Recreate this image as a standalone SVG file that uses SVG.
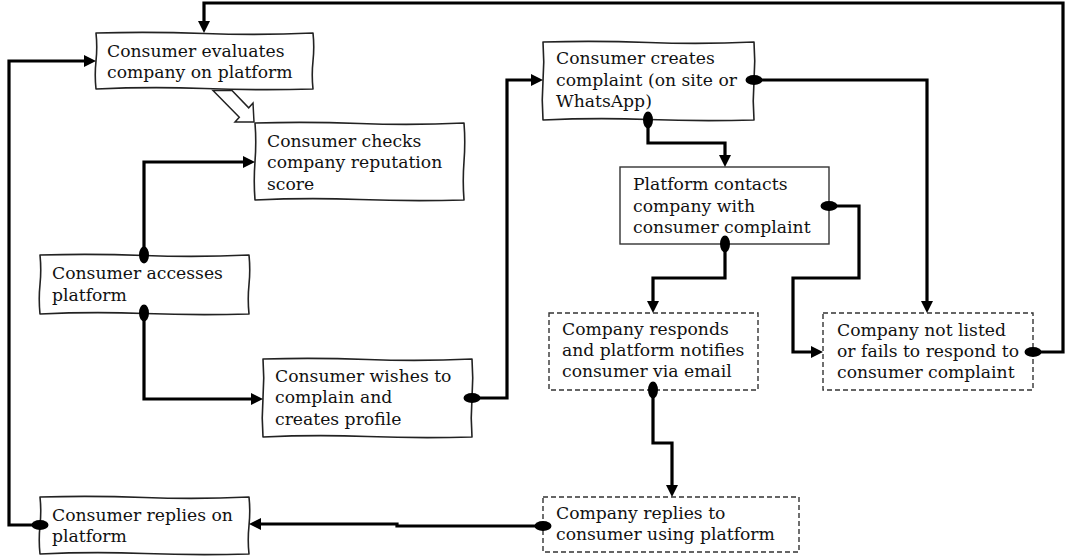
<svg xmlns="http://www.w3.org/2000/svg" width="1065" height="559" viewBox="0 0 1065 559">
<style>
.sk{fill:#fff;stroke:#222;stroke-width:1.6;stroke-linejoin:round}
.pl{fill:#fff;stroke:#333;stroke-width:1.4}
.ds{fill:#fff;stroke:#333;stroke-width:1.4;stroke-dasharray:5 3}
.t{font-family:"DejaVu Serif","Liberation Serif",serif;font-size:17.2px;fill:#111}
.c{fill:none;stroke:#000;stroke-width:3.2;stroke-linejoin:miter;marker-start:url(#dot);marker-end:url(#arr)}
</style>
<defs>
<marker id="arr" viewBox="0 0 12 12" refX="6" refY="6" markerWidth="12" markerHeight="12" markerUnits="userSpaceOnUse" orient="auto">
<path d="M0,0 L12,6 L0,12 Z" fill="#000"/>
</marker>
<marker id="dot" viewBox="0 0 18 12" refX="9" refY="6" markerWidth="18" markerHeight="12" markerUnits="userSpaceOnUse" orient="auto">
<ellipse cx="9" cy="6" rx="8.5" ry="5" fill="#000"/>
</marker>
</defs>
<g id="n1">
<path class="sk" d="M96,33 Q150,31.5 204.5,33.5 T313,33 Q314.5,47 313,61 T313,89 Q259,90.5 204.5,88.5 T96,89 Q94.5,75 96,61 T96,33 Z"/>
<text class="t" x="107" y="57">Consumer evaluates</text>
<text class="t" x="107" y="78">company on platform</text>
</g>
<g id="n2">
<path class="sk" d="M255,123 Q307,121.5 359.5,123.5 T464,123 Q465.5,142 464,161.5 T464,200 Q412,201.5 359.5,199.5 T255,200 Q253.5,181 255,161.5 T255,123 Z"/>
<text class="t" x="267" y="147">Consumer checks</text>
<text class="t" x="267" y="168">company reputation</text>
<text class="t" x="267" y="190">score</text>
</g>
<g id="n3">
<path class="sk" d="M40,255 Q92,253.5 144.5,255.5 T249,255 Q250.5,270 249,284.5 T249,314 Q197,315.5 144.5,313.5 T40,314 Q38.5,299 40,284.5 T40,255 Z"/>
<text class="t" x="52" y="279">Consumer accesses</text>
<text class="t" x="52" y="301">platform</text>
</g>
<g id="n4">
<path class="sk" d="M263,359 Q315,357.5 367.5,359.5 T472,359 Q473.5,378 472,398 T472,437 Q420,438.5 367.5,436.5 T263,437 Q261.5,418 263,398 T263,359 Z"/>
<text class="t" x="275" y="382">Consumer wishes to</text>
<text class="t" x="275" y="403">complain and</text>
<text class="t" x="275" y="425">creates profile</text>
</g>
<g id="n5">
<path class="sk" d="M40,497 Q92,495.5 144.5,497.5 T249,497 Q250.5,511 249,525.5 T249,554 Q197,555.5 144.5,553.5 T40,554 Q38.5,540 40,525.5 T40,497 Z"/>
<text class="t" x="52" y="521">Consumer replies on</text>
<text class="t" x="52" y="542">platform</text>
</g>
<g id="n6">
<path class="sk" d="M543,42 Q596,40.5 648.5,42.5 T754,42 Q755.5,61 754,81 T754,120 Q701,121.5 648.5,119.5 T543,120 Q541.5,100 543,81 T543,42 Z"/>
<text class="t" x="556" y="64">Consumer creates</text>
<text class="t" x="556" y="86">complaint (on site or</text>
<text class="t" x="556" y="107">WhatsApp)</text>
</g>
<g id="n7">
<rect class="pl" x="620" y="167" width="209" height="77"/>
<text class="t" x="633" y="190">Platform contacts</text>
<text class="t" x="633" y="212">company with</text>
<text class="t" x="633" y="233">consumer complaint</text>
</g>
<g id="n8">
<rect class="ds" x="549" y="313" width="209" height="77"/>
<text class="t" x="562" y="335">Company responds</text>
<text class="t" x="562" y="356">and platform notifies</text>
<text class="t" x="562" y="377">consumer via email</text>
</g>
<g id="n9">
<rect class="ds" x="543" y="497" width="256" height="55"/>
<text class="t" x="556" y="519">Company replies to</text>
<text class="t" x="556" y="540">consumer using platform</text>
</g>
<g id="n10">
<rect class="ds" x="823" y="313" width="210" height="77"/>
<text class="t" x="837" y="336">Company not listed</text>
<text class="t" x="837" y="357">or fails to respond to</text>
<text class="t" x="837" y="378">consumer complaint</text>
</g>
<g id="connectors">
<path class="c" d="M1033,352 H1063 V3 H204 V27"/>
<path class="c" d="M40,525 H9 V61 H90"/>
<path class="c" d="M144,255 V162 H249"/>
<path class="c" d="M144,313 V399 H257"/>
<path class="c" d="M472,398 H507 V80 H537"/>
<path class="c" d="M754,80 H927 V307"/>
<path class="c" d="M648,120 V143 H725 V161"/>
<path class="c" d="M829,206 H859 V278 H793 V352 H817"/>
<path class="c" d="M725,244 V278 H653 V307"/>
<path class="c" d="M653,390 V443 H672 V491"/>
<path class="c" d="M543,526 H397 V524 H255"/>
<polygon points="213,90.5 239.3,117.2 235,122 254,122 253,103 248.7,107.8 232,90.5" fill="#fff" stroke="#222" stroke-width="1.5" stroke-linejoin="miter"/>
</g>
</svg>
